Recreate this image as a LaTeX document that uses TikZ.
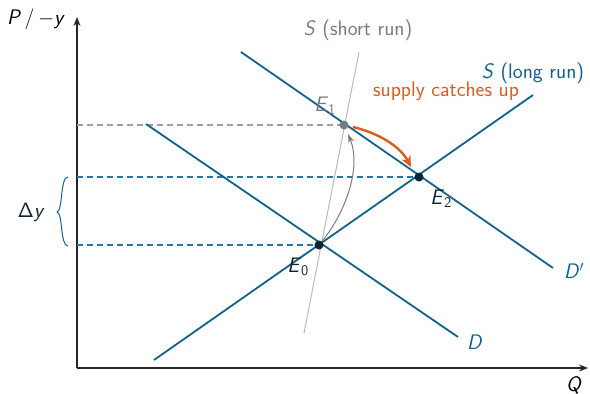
\documentclass[tikz,border=0pt]{standalone}
\usetikzlibrary{arrows.meta}
\definecolor{bluel}{RGB}{16,98,138}
\definecolor{dashb}{RGB}{30,122,172}
\definecolor{dotd}{RGB}{12,38,52}
\definecolor{grayt}{RGB}{120,124,130}
\definecolor{grayl}{RGB}{185,185,185}
\definecolor{orng}{RGB}{220,92,30}
\tikzset{
  axis/.style={line width=1.4pt, black!85, -{Stealth[length=9pt,width=7pt]}},
  curve/.style={line width=1.8pt, bluel},
  guide/.style={line width=1.05pt, dash pattern=on 6pt off 4pt},
  lbl/.style={font=\fontsize{21}{24}\selectfont\sffamily, inner sep=0pt},
  eqdot/.style={circle, fill=dotd, inner sep=0pt, minimum size=9pt},
}
\begin{document}
\begin{tikzpicture}[x=1pt,y=-1pt]
\useasboundingbox (0,0) rectangle (590,394);
% axes
\coordinate (O) at (77,368);
\coordinate (ytop) at (77,17);
\coordinate (xend) at (588,368);
\draw[axis] (O) -- (ytop);
\draw[axis] (O) -- (xend);
\node[lbl] (ylab) at (36,19) {\textsl{P}\kern3.5pt/\kern3.5pt$-$\textsl{y}};
\node[lbl] (xlab) at (574,385) {\textsl{Q}};
% points
\coordinate (E0) at (319,245);
\coordinate (E1) at (344,125);
\coordinate (E2) at (419,177);
\coordinate (y0) at (77,245);
\coordinate (y1) at (77,125);
\coordinate (y2) at (77,177);
% dashed guides
\draw[guide, draw=gray!75] (y1) -- (E1);
\draw[guide, draw=dashb] (y2) -- (E2);
\draw[guide, draw=dashb] (y0) -- (E0);
% short run supply
\coordinate (ss0) at (304,333);
\coordinate (ss1) at (359,52);
\draw[grayl, line width=1pt] (ss0) -- (ss1);
% demand and long-run supply
\coordinate (d0) at (146,124);
\coordinate (d1) at (458,337);
\coordinate (dp0) at (241,52);
\coordinate (dp1) at (553,268);
\coordinate (sl0) at (154,360);
\coordinate (sl1) at (533,95);
\draw[curve] (d0) -- (d1);
\draw[curve] (dp0) -- (dp1);
\draw[curve] (sl0) -- (sl1);
% labels
\node[lbl, bluel] (Dl) at (475,342) {\textsl{D}};
\node[lbl, bluel] (Dpl) at (574,271) {\textsl{D}$'$};
\node[lbl, bluel] (SLl) at (533,73) {\textsl{S} (long run)};
\node[lbl, grayt] (SSl) at (358,30) {\textsl{S} (short run)};
\node[lbl, orng] (sup) at (446,91) {supply catches up};
% arrows
\draw[grayt, line width=1pt, -{Stealth[length=9pt,width=6pt]}] (E0) .. controls (345,215) and (362,168) .. (348,134);
\draw[orng, line width=2.4pt, -{Stealth[length=11pt,width=10pt]}] (353,127) .. controls (378,133) and (400,146) .. (411,167);
% dots
\node[eqdot] (p0) at (E0) {};
\node[eqdot] (p2) at (E2) {};
\node[eqdot, fill=grayt] (p1) at (E1) {};
\node[lbl, grayt] (E1l) at (325,106) {\textsl{E}\textsubscript{1}};
\node[lbl, dotd] (E2l) at (441,199) {\textsl{E}\textsubscript{2}};
\node[lbl, dotd] (E0l) at (298,267) {\textsl{E}\textsubscript{0}};
% brace
\draw[bluel, line width=1pt] (68,177) .. controls (60,177) and (63,211) .. (57,212) .. controls (63,213) and (60,246) .. (68,246);
\node[lbl, dotd] (dy) at (31,212) {$\mathsf{\Delta}$\textsl{y}};
\end{tikzpicture}
\end{document}
